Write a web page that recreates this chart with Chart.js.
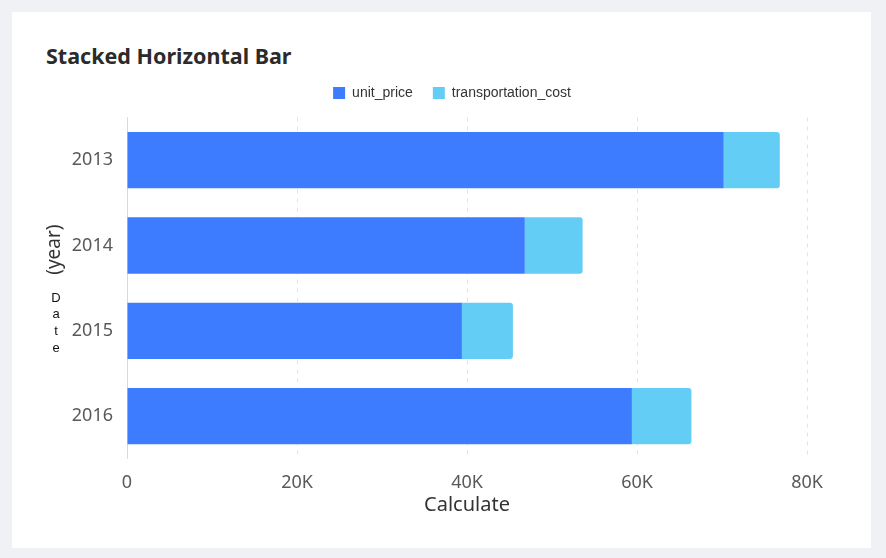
<!DOCTYPE html>
<html>
<head>
<meta charset="utf-8">
<script src="https://cdn.jsdelivr.net/npm/chart.js@4"></script>
<style>
  html, body { margin: 0; padding: 0; background: #f0f1f5; }
  body { width: 886px; height: 558px; position: relative; overflow: hidden; }
  .card { position: absolute; left: 12px; top: 12px; width: 859px; height: 536px; background: #fff; }
  .card h1 { position: absolute; left: 34px; top: 29px; margin: 0; font: bold 21.5px "Noto Sans", sans-serif; color: #2b2b2b; }
  .wrap { position: absolute; left: 0; top: 0; width: 859px; height: 536px; }
</style>
</head>
<body>
<div class="card">
  <h1>Stacked Horizontal Bar</h1>
  <div class="wrap"><canvas id="grafico"></canvas></div>
</div>
<script>
const years = ['2013', '2014', '2015', '2016'];
const unitPrice = [70200, 46800, 39400, 59400];
const transportationCost = [6600, 6800, 6000, 7000];
const xTicks = [0, 20000, 40000, 60000, 80000];

// titulo del eje Y: "(year)" girado y "Date" letra por letra
const yTitle = {
    id: 'yTitle',
    afterLayout(chart) {
        // la leyenda va centrada en la tarjeta, no en el area sin el margen derecho
        chart.legend.left += 42.5;
        chart.legend.right += 42.5;
    },
    afterDraw(chart) {
        const ctx = chart.ctx;
        const mid = (chart.chartArea.top + chart.chartArea.bottom) / 2;
        ctx.save();
        ctx.fillStyle = '#333';
        ctx.font = '19px "Noto Sans", sans-serif';
        ctx.textAlign = 'center';
        ctx.textBaseline = 'middle';
        ctx.translate(42.5, mid - 38.5);
        ctx.rotate(-Math.PI / 2);
        ctx.fillText('(year)', 0, 0);
        ctx.restore();
        ctx.save();
        ctx.fillStyle = '#111';
        ctx.font = '13px "Liberation Sans", sans-serif';
        ctx.textAlign = 'center';
        ctx.textBaseline = 'middle';
        'Date'.split('').forEach((c, i) => ctx.fillText(c, 44, mid + 10 + i * 16.7));
        ctx.restore();
    }
};

const ctx = document.getElementById('grafico').getContext('2d');
window.myChart = new Chart(ctx, {
    type: 'bar',
    data: {
        labels: years,
        datasets: [{
            label: 'unit_price',
            data: unitPrice,
            backgroundColor: '#3d7cff',
            borderRadius: 0
        }, {
            label: 'transportation_cost',
            data: transportationCost,
            backgroundColor: '#63cdf5',
            borderRadius: 3
        }]
    },
    options: {
        indexAxis: 'y',
        responsive: true,
        maintainAspectRatio: false,
        animation: false,
        layout: { padding: { top: 54, right: 64, bottom: 31, left: 0 } },
        datasets: { bar: { barPercentage: 0.66, categoryPercentage: 1 } },
        plugins: {
            legend: {
                display: true,
                position: 'top',
                labels: {
                    boxWidth: 12, boxHeight: 12, padding: 20,
                    color: '#333',
                    font: { family: '"Liberation Sans", Arial, sans-serif', size: 14 }
                }
            },
            title: { display: false },
            tooltip: { enabled: false }
        },
        scales: {
            x: {
                stacked: true,
                min: 0, max: 80000,
                afterBuildTicks: s => { s.ticks = xTicks.map(v => ({ value: v })); },
                grid: { color: '#e3e3e3', drawTicks: false },
                border: { display: false, dash: [4, 5] },
                ticks: {
                    padding: 13,
                    color: '#595959',
                    font: { family: '"Noto Sans", sans-serif', size: 18 },
                    callback: v => v === 0 ? '0' : (v / 1000) + 'K'
                },
                title: {
                    display: true, text: 'Calculate', color: '#333',
                    font: { family: '"Noto Sans", sans-serif', size: 20 },
                    padding: { top: -13.4, bottom: 0 }
                }
            },
            gap: {
                type: 'linear', axis: 'x', position: 'top', display: true,
                grid: { display: false }, border: { display: false },
                ticks: { display: false },
                afterFit: s => { s.height = 7.5; }
            },
            y: {
                stacked: true,
                afterFit: s => { s.width = 115; },
                grid: { display: false, drawTicks: false },
                border: { display: true, color: '#d9d9d9' },
                ticks: {
                    padding: 14,
                    color: '#595959',
                    font: { family: '"Noto Sans", sans-serif', size: 18 }
                }
            }
        }
    },
    plugins: [yTitle]
});
</script>
</body>
</html>
